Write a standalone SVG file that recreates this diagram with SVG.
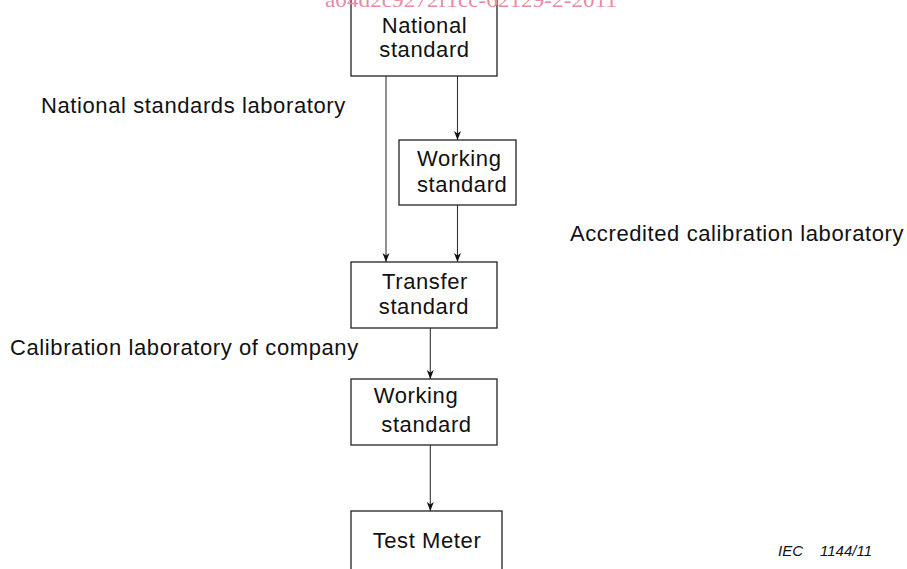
<svg xmlns="http://www.w3.org/2000/svg" width="907" height="569" viewBox="0 0 907 569">
<style>
.box{fill:#fff;stroke:#222;stroke-width:1.3}
.t{font-family:"Liberation Sans",Arial,sans-serif;font-size:22px;letter-spacing:0.6px;fill:#111}
.c{text-anchor:middle}
.ln{stroke:#333;stroke-width:1.1;fill:none}
.ah{fill:#111}
.wm{font-family:"Liberation Serif","Times New Roman",serif;font-size:22px;fill:#e98aa5}
.iec{font-family:"Liberation Sans",Arial,sans-serif;font-size:15px;font-style:italic;fill:#111}
</style>
<rect width="907" height="569" fill="#fff"/>
<g id="connectors">
<line class="ln" x1="386" y1="76" x2="386" y2="262"/>
<path class="ah" d="M382.5,253 L386,262 L389.5,253 L386,255.5 Z"/>
<line class="ln" x1="457.5" y1="76" x2="457.5" y2="140"/>
<path class="ah" d="M454,131 L457.5,140 L461,131 L457.5,133.5 Z"/>
<line class="ln" x1="457.5" y1="205" x2="457.5" y2="262"/>
<path class="ah" d="M454,253 L457.5,262 L461,253 L457.5,255.5 Z"/>
<line class="ln" x1="430.3" y1="328" x2="430.3" y2="379"/>
<path class="ah" d="M426.8,370 L430.3,379 L433.8,370 L430.3,372.5 Z"/>
<line class="ln" x1="430.3" y1="445" x2="430.3" y2="511"/>
<path class="ah" d="M426.8,502 L430.3,511 L433.8,502 L430.3,504.5 Z"/>
</g>
<g id="national-standard">
<rect class="box" x="351" y="-10" width="146" height="86"/>
<text class="t c" x="424.5" y="33">National</text>
<text class="t c" x="424.5" y="57">standard</text>
</g>
<g id="working-standard-1">
<rect class="box" x="399" y="140" width="117" height="65"/>
<text class="t" x="417" y="166">Working</text>
<text class="t" x="417" y="192">standard</text>
</g>
<g id="transfer-standard">
<rect class="box" x="351" y="262" width="146" height="66"/>
<text class="t c" x="425" y="289">Transfer</text>
<text class="t c" x="424" y="314">standard</text>
</g>
<g id="working-standard-2">
<rect class="box" x="351" y="379" width="146" height="66"/>
<text class="t c" x="416" y="403">Working</text>
<text class="t c" x="426.5" y="432">standard</text>
</g>
<g id="test-meter">
<rect class="box" x="351" y="511" width="151" height="70"/>
<text class="t c" x="427" y="548">Test Meter</text>
</g>
<g id="labels">
<text class="t" x="41" y="113">National standards laboratory</text>
<text class="t" x="570" y="241">Accredited calibration laboratory</text>
<text class="t" x="10" y="355">Calibration laboratory of company</text>
<text class="iec" x="778" y="556">IEC</text>
<text class="iec" x="820" y="556">1144/11</text>
</g>
<text class="wm" x="325" y="7" textLength="292" lengthAdjust="spacingAndGlyphs">a04d2c9272f1cc-62129-2-2011</text>
</svg>
